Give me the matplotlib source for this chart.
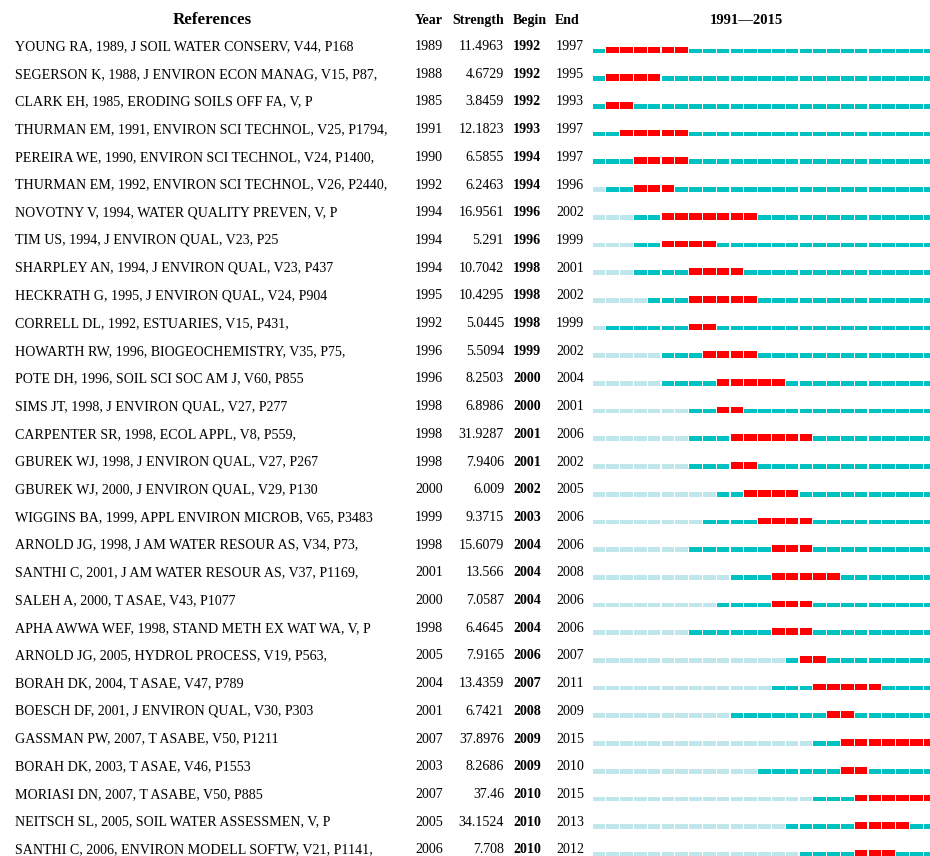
import matplotlib
matplotlib.use("Agg")
import matplotlib.pyplot as plt

references = [
    "YOUNG RA, 1989, J SOIL WATER CONSERV, V44, P168",
    "SEGERSON K, 1988, J ENVIRON ECON MANAG, V15, P87,",
    "CLARK EH, 1985, ERODING SOILS OFF FA, V, P",
    "THURMAN EM, 1991, ENVIRON SCI TECHNOL, V25, P1794,",
    "PEREIRA WE, 1990, ENVIRON SCI TECHNOL, V24, P1400,",
    "THURMAN EM, 1992, ENVIRON SCI TECHNOL, V26, P2440,",
    "NOVOTNY V, 1994, WATER QUALITY PREVEN, V, P",
    "TIM US, 1994, J ENVIRON QUAL, V23, P25",
    "SHARPLEY AN, 1994, J ENVIRON QUAL, V23, P437",
    "HECKRATH G, 1995, J ENVIRON QUAL, V24, P904",
    "CORRELL DL, 1992, ESTUARIES, V15, P431,",
    "HOWARTH RW, 1996, BIOGEOCHEMISTRY, V35, P75,",
    "POTE DH, 1996, SOIL SCI SOC AM J, V60, P855",
    "SIMS JT, 1998, J ENVIRON QUAL, V27, P277",
    "CARPENTER SR, 1998, ECOL APPL, V8, P559,",
    "GBUREK WJ, 1998, J ENVIRON QUAL, V27, P267",
    "GBUREK WJ, 2000, J ENVIRON QUAL, V29, P130",
    "WIGGINS BA, 1999, APPL ENVIRON MICROB, V65, P3483",
    "ARNOLD JG, 1998, J AM WATER RESOUR AS, V34, P73,",
    "SANTHI C, 2001, J AM WATER RESOUR AS, V37, P1169,",
    "SALEH A, 2000, T ASAE, V43, P1077",
    "APHA AWWA WEF, 1998, STAND METH EX WAT WA, V, P",
    "ARNOLD JG, 2005, HYDROL PROCESS, V19, P563,",
    "BORAH DK, 2004, T ASAE, V47, P789",
    "BOESCH DF, 2001, J ENVIRON QUAL, V30, P303",
    "GASSMAN PW, 2007, T ASABE, V50, P1211",
    "BORAH DK, 2003, T ASAE, V46, P1553",
    "MORIASI DN, 2007, T ASABE, V50, P885",
    "NEITSCH SL, 2005, SOIL WATER ASSESSMEN, V, P",
    "SANTHI C, 2006, ENVIRON MODELL SOFTW, V21, P1141,",
]
pub_years = [1989, 1988, 1985, 1991, 1990, 1992, 1994, 1994, 1994, 1995,
             1992, 1996, 1996, 1998, 1998, 1998, 2000, 1999, 1998, 2001,
             2000, 1998, 2005, 2004, 2001, 2007, 2003, 2007, 2005, 2006]
strengths = ["11.4963", "4.6729", "3.8459", "12.1823", "6.5855", "6.2463",
             "16.9561", "5.291", "10.7042", "10.4295", "5.0445", "5.5094",
             "8.2503", "6.8986", "31.9287", "7.9406", "6.009", "9.3715",
             "15.6079", "13.566", "7.0587", "6.4645", "7.9165", "13.4359",
             "6.7421", "37.8976", "8.2686", "37.46", "34.1524", "7.708"]
begins = [1992, 1992, 1992, 1993, 1994, 1994, 1996, 1996, 1998, 1998,
          1998, 1999, 2000, 2000, 2001, 2001, 2002, 2003, 2004, 2004,
          2004, 2004, 2006, 2007, 2008, 2009, 2009, 2010, 2010, 2010]
ends = [1997, 1995, 1993, 1997, 1997, 1996, 2002, 1999, 2001, 2002,
        1999, 2002, 2004, 2001, 2006, 2002, 2005, 2006, 2006, 2008,
        2006, 2006, 2007, 2011, 2009, 2015, 2010, 2015, 2013, 2012]
span_start, span_end = 1991, 2015
headers = ["References", "Year", "Strength", "Begin", "End", "1991\u20142015"]

RED = "#FF0000"
DARK = "#00C2C2"
LIGHT = "#BFE6EA"
FONT = "Liberation Serif"

W, H = 930, 856
fig = plt.figure(figsize=(W / 100, H / 100), dpi=100)
pitch = 27.7
y0 = 46.5
ytop = (0 - y0) / pitch
ybot = (H - y0) / pitch

# text overlay axes (pixel x, row y)
tax = fig.add_axes([0, 0, 1, 1])
tax.set_xlim(0, W)
tax.set_ylim(ybot, ytop)
tax.axis("off")

# bar axes
bx0 = 592
bax = fig.add_axes([bx0 / W, 0, (W - bx0) / W, 1])
seg = 13.8
bax.set_xlim(span_start - 0.5, span_start - 0.5 + (W - bx0) / seg)
bax.set_ylim(ybot, ytop)
bax.axis("off")

n = len(references)
red_h = 6.7 / pitch
cyan_h = 4.7 / pitch
base = 6.8 / pitch

for i in range(n):
    for yr in range(span_start, span_end + 1):
        if begins[i] <= yr <= ends[i]:
            c, h = RED, red_h
        elif yr < pub_years[i]:
            c, h = LIGHT, cyan_h
        else:
            c, h = DARK, cyan_h
        bax.bar(yr, -h, bottom=i + base, width=0.9, color=c,
                linewidth=0, align="center")

fs = 10.05
for i in range(n):
    tax.text(15, i, references[i], fontsize=fs, family=FONT, va="center", ha="left")
    tax.text(415, i, str(pub_years[i]), fontsize=fs, family=FONT, va="center", ha="left")
    tax.text(504, i, strengths[i], fontsize=fs, family=FONT, va="center", ha="right")
    tax.text(513, i, str(begins[i]), fontsize=fs, family=FONT, va="center",
             ha="left", fontweight="bold")
    tax.text(556, i, str(ends[i]), fontsize=fs, family=FONT, va="center", ha="left")

hy = (20 - y0) / pitch
tax.text(212, hy, headers[0], fontsize=12.2, family=FONT, fontweight="bold",
         va="center", ha="center")
tax.text(415, hy, headers[1], fontsize=10, family=FONT, fontweight="bold",
         va="center", ha="left")
tax.text(504, hy, headers[2], fontsize=10, family=FONT, fontweight="bold",
         va="center", ha="right")
tax.text(513, hy, headers[3], fontsize=10, family=FONT, fontweight="bold",
         va="center", ha="left")
tax.text(555, hy, headers[4], fontsize=10, family=FONT, fontweight="bold",
         va="center", ha="left")
tax.text(746.5, hy, headers[5], fontsize=10.5, family=FONT, fontweight="bold",
         va="center", ha="center")

fig.savefig("out.png", dpi=100)
